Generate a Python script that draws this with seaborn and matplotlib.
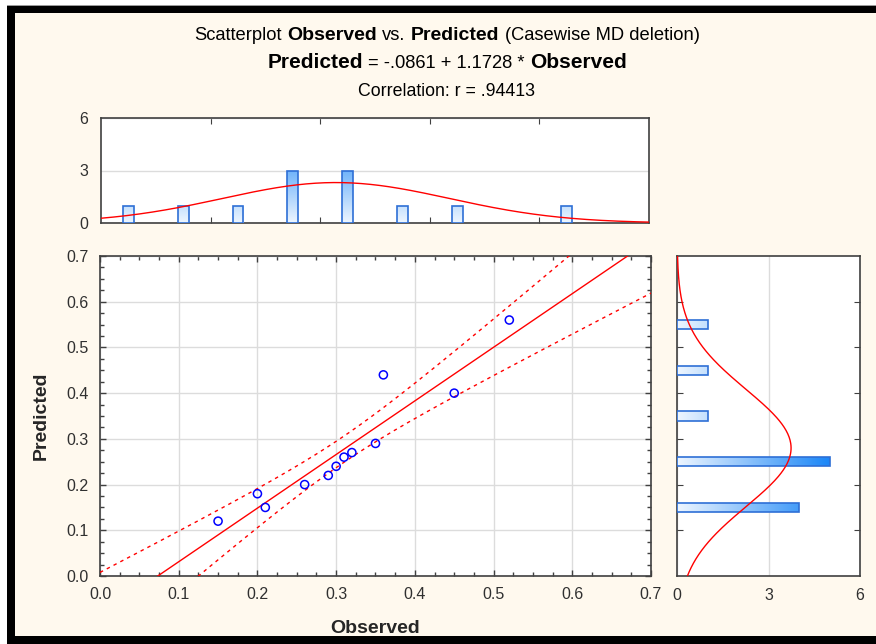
import numpy as np
import pandas as pd
import matplotlib
matplotlib.use("Agg")
import matplotlib.pyplot as plt
import seaborn as sns
from matplotlib.colors import LinearSegmentedColormap
from matplotlib.patches import Rectangle
from matplotlib.transforms import IdentityTransform
from matplotlib.ticker import MultipleLocator, FixedLocator
from matplotlib import font_manager as fm

# ---------------- data ----------------
observed = [0.15, 0.20, 0.21, 0.26, 0.29, 0.30, 0.31, 0.32, 0.35, 0.36, 0.45, 0.52]
predicted = [0.12, 0.18, 0.15, 0.20, 0.22, 0.24, 0.26, 0.27, 0.29, 0.44, 0.40, 0.56]

obs_bin_centers = [0.035, 0.105, 0.175, 0.245, 0.315, 0.385, 0.455, 0.595]
obs_bin_counts = [1, 1, 1, 3, 3, 1, 1, 1]
pred_bin_centers = [0.15, 0.25, 0.35, 0.45, 0.55]
pred_bin_counts = [4, 5, 1, 1, 1]

obs_norm_mean, obs_norm_sd, obs_bin_width = 0.30, 0.145, 0.07
pred_norm_mean, pred_norm_sd, pred_bin_width = 0.28, 0.128, 0.10
t_crit = 2.228  # t(0.975, df=10)

axis_ticks = [0.0, 0.1, 0.2, 0.3, 0.4, 0.5, 0.6, 0.7]
axis_tick_labels = ["0.0", "0.1", "0.2", "0.3", "0.4", "0.5", "0.6", "0.7"]
count_ticks = [0, 3, 6]
count_tick_labels = ["0", "3", "6"]

# ---------------- style ----------------
sns.set_style("white")
names = {f.name for f in fm.fontManager.ttflist}
NARROW = "Liberation Sans Narrow" if "Liberation Sans Narrow" in names else "Liberation Sans"
plt.rcParams["font.family"] = ["Liberation Sans", "DejaVu Sans"]

CREAM = "#FFF9EE"
SPINE = "#404040"
TICKC = "#303030"
GRID = "#DCDCDC"
RED = "#FF0000"
EDGE = "#2E6FD6"

W, H = 876, 644
fig = plt.figure(figsize=(W / 100, H / 100), dpi=100, facecolor="white")
ID = IdentityTransform()

# frame
fig.add_artist(Rectangle((7, 0), W - 7, H - 5, transform=ID, facecolor="black",
                         edgecolor="none", zorder=-10))
fig.add_artist(Rectangle((7, H - 6), W - 7, 1, transform=ID, facecolor="#9A9A9A",
                         edgecolor="none", zorder=-9))
fig.add_artist(Rectangle((15, H - 636), W - 15, 636 - 13, transform=ID, facecolor=CREAM,
                         edgecolor="none", zorder=-8))


def ax_rect(l, t, r, b):
    return [l / W, (H - b) / H, (r - l) / W, (b - t) / H]


ax = fig.add_axes(ax_rect(100, 256, 651, 576))
ax_top = fig.add_axes(ax_rect(101, 118, 649, 223))
ax_right = fig.add_axes(ax_rect(677, 256, 860, 576))

for a in (ax, ax_top, ax_right):
    a.set_facecolor("white")
    for s in a.spines.values():
        s.set_color(SPINE)
        s.set_linewidth(1.2)
        s.set_visible(True)

cmap = LinearSegmentedColormap.from_list("blu", ["#EEF6FF", "#1A86F7"])

# ---------------- main scatter ----------------
df = pd.DataFrame({"Observed": observed, "Predicted": predicted})
x = np.array(observed)
y = np.array(predicted)
n = len(x)
b1, b0 = np.polyfit(x, y, 1)
resid = y - (b0 + b1 * x)
s = np.sqrt(np.sum(resid ** 2) / (n - 2))
sxx = np.sum((x - x.mean()) ** 2)
xg = np.linspace(0, 0.7, 300)
yfit = b0 + b1 * xg
se = s * np.sqrt(1 / n + (xg - x.mean()) ** 2 / sxx)
line_df = pd.DataFrame({"x": xg, "fit": yfit, "lo": yfit - t_crit * se, "hi": yfit + t_crit * se})

sns.lineplot(data=line_df, x="x", y="fit", ax=ax, color=RED, linewidth=1.0, zorder=3)
for col in ("lo", "hi"):
    sns.lineplot(data=line_df, x="x", y=col, ax=ax, color=RED, linewidth=1.0,
                 dashes=False, zorder=3, linestyle=(0, (2.5, 3)))
sns.scatterplot(data=df, x="Observed", y="Predicted", ax=ax, marker="o", s=34,
                facecolors="none", edgecolors="#0000FF", linewidth=1.1, zorder=4)

ax.set_xlim(0, 0.7)
ax.set_ylim(0, 0.7)
ax.xaxis.set_major_locator(FixedLocator(axis_ticks))
ax.yaxis.set_major_locator(FixedLocator(axis_ticks))
ax.set_xticklabels(axis_tick_labels)
ax.set_yticklabels(axis_tick_labels)
ax.xaxis.set_minor_locator(MultipleLocator(0.025))
ax.yaxis.set_minor_locator(MultipleLocator(0.025))
ax.tick_params(which="both", direction="in", top=True, right=True, bottom=True, left=True,
               color=SPINE, width=1)
ax.tick_params(which="major", length=4, labelsize=11.5, labelcolor=TICKC, pad=8)
ax.tick_params(which="minor", length=3)
ax.grid(True, which="major", color=GRID, linewidth=1)
ax.set_axisbelow(True)
ax.set_xlabel("Observed", fontsize=14, fontweight="bold", labelpad=13)
ax.set_ylabel("Predicted", fontsize=14, fontweight="bold", labelpad=12)


def gradient_bars(a, horizontal):
    for p in list(a.patches):
        p.set_facecolor("none")
        p.set_edgecolor(EDGE)
        p.set_linewidth(1.2)
        p.set_zorder(4)
        bb = p.get_bbox()
        if horizontal:
            grad = np.linspace(0, 1, 256).reshape(1, -1)
            ext = (0, 5, bb.y0, bb.y1)
        else:
            grad = np.linspace(0, 1, 256).reshape(-1, 1)
            ext = (bb.x0, bb.x1, 0, 5)
        im = a.imshow(grad, cmap=cmap, extent=ext, origin="lower", aspect="auto",
                      zorder=3, interpolation="bilinear")
        im.set_clip_path(p)


# ---------------- top histogram ----------------
top_df = pd.DataFrame({"bin": obs_bin_centers, "count": obs_bin_counts})
sns.barplot(data=top_df, x="bin", y="count", ax=ax_top, native_scale=True, width=0.2,
            color="#8EC3F7", errorbar=None)
gradient_bars(ax_top, horizontal=False)
xo = np.linspace(0, 0.7, 300)
top_curve = pd.DataFrame({
    "x": xo,
    "y": n * obs_bin_width / (obs_norm_sd * np.sqrt(2 * np.pi))
    * np.exp(-0.5 * ((xo - obs_norm_mean) / obs_norm_sd) ** 2)})
sns.lineplot(data=top_curve, x="x", y="y", ax=ax_top, color=RED, linewidth=1.0, zorder=5)
ax_top.set_xlim(0, 0.7)
ax_top.set_ylim(0, 6)
ax_top.set_xticks([0.14, 0.28, 0.42, 0.56])
ax_top.set_xticklabels([])
ax_top.set_yticks(count_ticks)
ax_top.set_yticklabels(count_tick_labels)
ax_top.tick_params(axis="x", direction="in", top=True, bottom=True, length=4, color=SPINE)
ax_top.tick_params(axis="y", length=0, labelsize=11.5, labelcolor=TICKC, pad=9)
ax_top.grid(True, axis="y", color=GRID, linewidth=1)
ax_top.grid(False, axis="x")
ax_top.set_axisbelow(True)
ax_top.set_xlabel("")
ax_top.set_ylabel("")

# ---------------- right histogram ----------------
right_df = pd.DataFrame({"bin": pred_bin_centers, "count": pred_bin_counts})
sns.barplot(data=right_df, x="count", y="bin", ax=ax_right, orient="h", native_scale=True,
            width=0.2, color="#8EC3F7", errorbar=None)
gradient_bars(ax_right, horizontal=True)
yo = np.linspace(0, 0.7, 300)
right_curve = pd.DataFrame({
    "y": yo,
    "x": n * pred_bin_width / (pred_norm_sd * np.sqrt(2 * np.pi))
    * np.exp(-0.5 * ((yo - pred_norm_mean) / pred_norm_sd) ** 2)})
sns.lineplot(data=right_curve, x="x", y="y", ax=ax_right, color=RED, linewidth=1.0,
             sort=False, estimator=None, orient="y", zorder=5)
ax_right.set_ylim(0, 0.7)
ax_right.set_xlim(0, 6)
ax_right.set_yticks([0.1, 0.2, 0.3, 0.4, 0.5, 0.6])
ax_right.set_yticklabels([])
ax_right.set_xticks(count_ticks)
ax_right.set_xticklabels(count_tick_labels)
ax_right.tick_params(axis="y", direction="in", left=True, right=True, length=4, color=SPINE)
ax_right.tick_params(axis="x", length=0, labelsize=11.5, labelcolor=TICKC, pad=9)
ax_right.grid(True, axis="x", color=GRID, linewidth=1)
ax_right.grid(False, axis="y")
ax_right.set_axisbelow(True)
ax_right.set_xlabel("")
ax_right.set_ylabel("")

# ---------------- titles (mixed weight) ----------------
renderer = fig.canvas.get_renderer()


def text_width(s, size, weight, family):
    t = fig.text(0, 0, s, fontsize=size, fontweight=weight, family=family, transform=ID)
    w = t.get_window_extent(renderer).width
    t.remove()
    return w


def rich_line(y_top, pieces, cx=447):
    # pieces: (text, size, weight, family, space_after)
    widths = []
    gaps = []
    for txt, size, weight, fam, sp in pieces:
        widths.append(text_width(txt, size, weight, fam))
        if sp:
            g = text_width("a a", size, "normal", NARROW) - text_width("aa", size, "normal", NARROW)
        else:
            g = 0
        gaps.append(g)
    total = sum(widths) + sum(gaps[:-1])
    xcur = cx - total / 2
    for (txt, size, weight, fam, sp), w, g in zip(pieces, widths, gaps):
        fig.text(xcur, H - y_top, txt, fontsize=size, fontweight=weight, family=fam,
                 transform=ID, va="baseline", ha="left", color="black")
        xcur += w + g


BOLD = "Liberation Sans"
rich_line(40, [("Scatterplot", 13.2, "normal", NARROW, True),
               ("Observed", 14, "bold", BOLD, True),
               ("vs.", 13.2, "normal", NARROW, True),
               ("Predicted", 14, "bold", BOLD, True),
               ("(Casewise MD deletion)", 13.2, "normal", NARROW, False)])
rich_line(68, [("Predicted", 15, "bold", BOLD, True),
               ("= -.0861 + 1.1728 *", 13.2, "normal", NARROW, True),
               ("Observed", 15, "bold", BOLD, False)])
rich_line(96, [("Correlation: r = .94413", 12.8, "normal", NARROW, False)])

fig.savefig("out.png", dpi=100, facecolor=fig.get_facecolor())
